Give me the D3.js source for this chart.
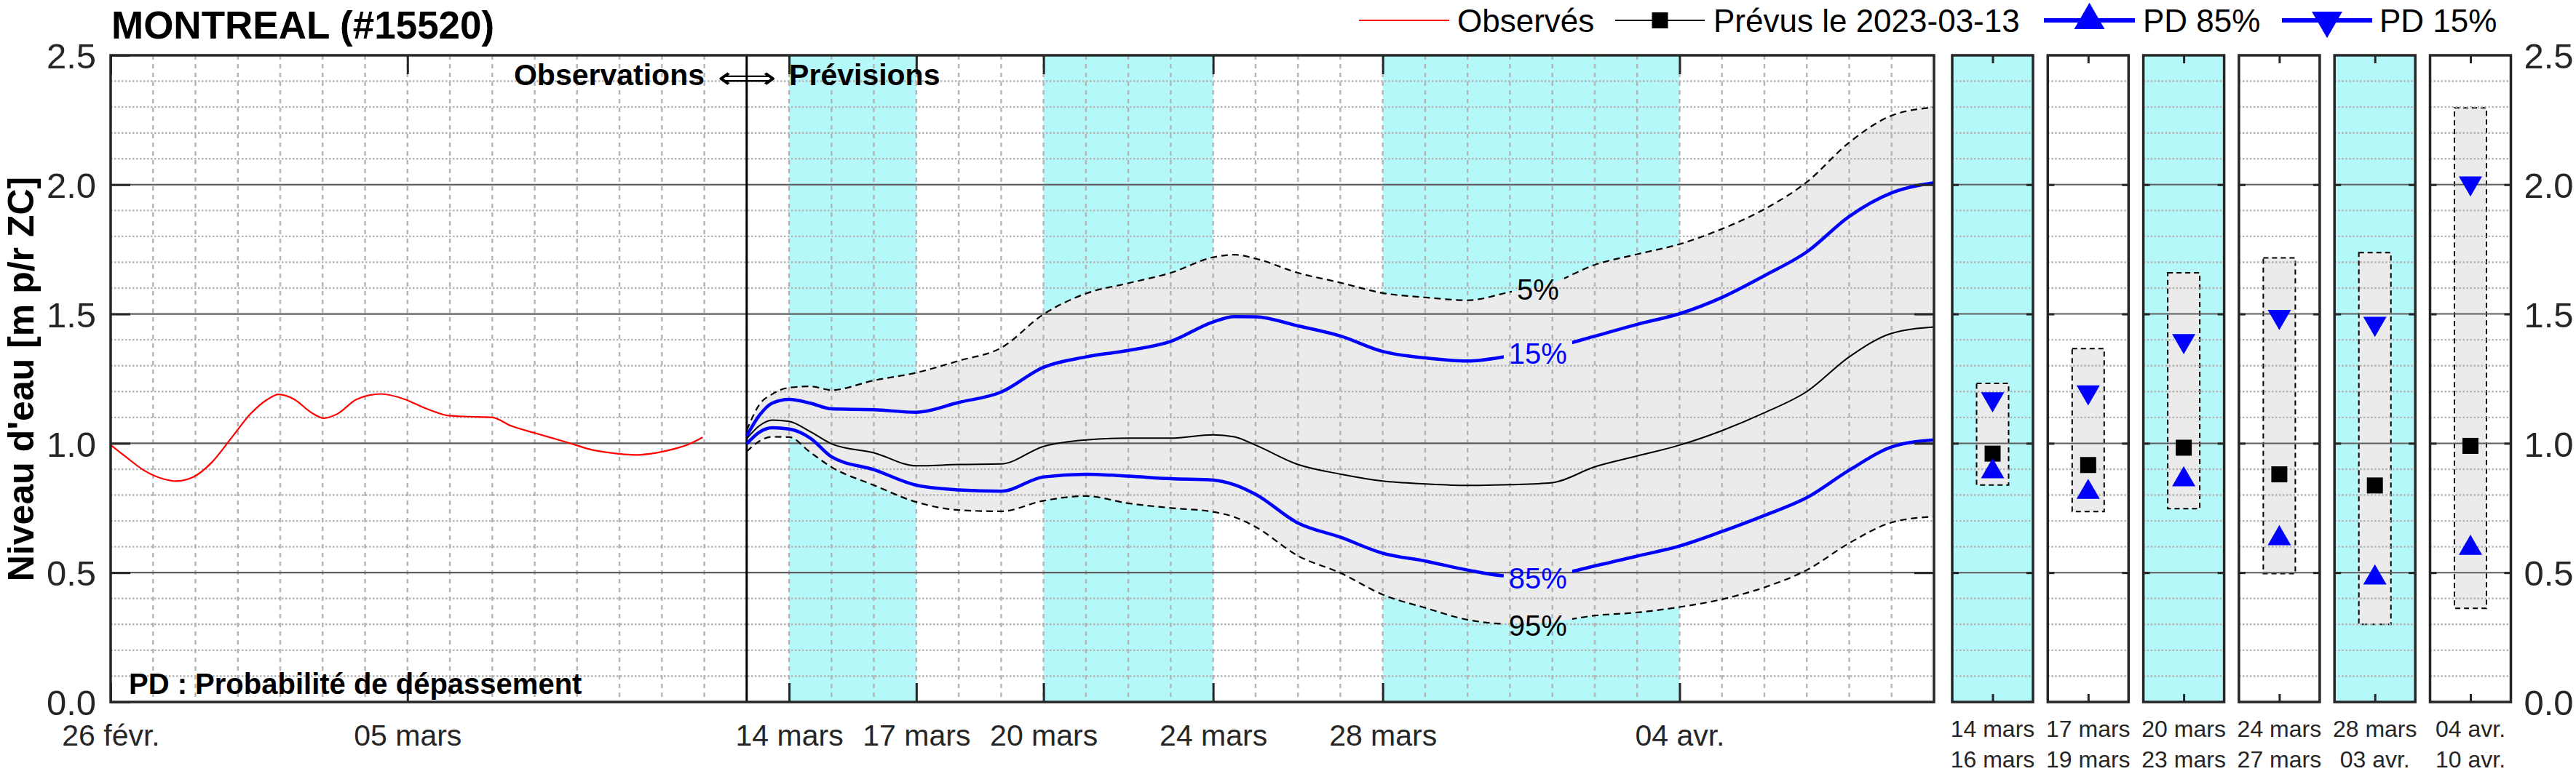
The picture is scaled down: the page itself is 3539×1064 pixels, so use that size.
<!DOCTYPE html>
<html><head><meta charset="utf-8">
<script src="https://cdn.jsdelivr.net/npm/d3@7"></script>
<style>html,body{margin:0;padding:0;background:#fff}svg{display:block}</style>
</head><body>
<script>
// ---------------- DATA ----------------
const titleText = "MONTREAL (#15520)";
const yLabelText = "Niveau d'eau [m p/r ZC]";
const startDate = "2023-02-26";
const endDate = "2023-04-10";
const forecastDate = "2023-03-13";
const xTickDates = ["2023-02-26","2023-03-05","2023-03-14","2023-03-17","2023-03-20","2023-03-24","2023-03-28","2023-04-04"];
const xTickLabels = ["26 févr.","05 mars","14 mars","17 mars","20 mars","24 mars","28 mars","04 avr."];
const yTicks = [0, 0.5, 1, 1.5, 2, 2.5];
const yTickLabels = ["0.0","0.5","1.0","1.5","2.0","2.5"];
const bandStarts = ["2023-03-14","2023-03-20","2023-03-28"];
const bandEnds   = ["2023-03-17","2023-03-24","2023-04-04"];

// observed (days since startDate)
const obsDays = [0,0.34,0.8,1.25,1.54,1.94,2.39,2.85,3.3,3.7,3.96,4.33,4.73,5.03,5.35,5.8,6.37,6.94,7.4,7.97,8.48,9,9.45,10.02,10.8,11.37,11.95,12.35,12.86,13.3,13.64,13.96];
const obsValues = [0.994,0.95,0.894,0.862,0.854,0.869,0.927,1.021,1.114,1.17,1.189,1.17,1.119,1.097,1.114,1.17,1.191,1.17,1.137,1.107,1.103,1.1,1.067,1.039,1.002,0.974,0.96,0.955,0.963,0.979,0.997,1.023];

// forecast (days since startDate)
const fcDays = [15,15.3,15.6,16,16.5,17,18,19,20,21,22,23,24,25,26,26.5,27,28,29,30,31,32,33,34,35,36,37,38,39,40,41,42,43];
const p05 = [1.05,1.15,1.19,1.215,1.22,1.206,1.243,1.273,1.319,1.369,1.499,1.579,1.619,1.659,1.719,1.729,1.714,1.659,1.621,1.581,1.564,1.553,1.585,1.62,1.69,1.731,1.77,1.829,1.905,2.01,2.163,2.267,2.299];
const p15 = [1.028,1.108,1.155,1.17,1.155,1.133,1.13,1.12,1.158,1.198,1.294,1.334,1.359,1.394,1.469,1.49,1.489,1.454,1.415,1.355,1.33,1.318,1.338,1.37,1.414,1.46,1.501,1.564,1.648,1.74,1.877,1.968,2.007];
const p50 = [1.018,1.068,1.09,1.085,1.045,0.998,0.963,0.913,0.918,0.92,0.988,1.013,1.02,1.02,1.033,1.025,0.993,0.918,0.881,0.854,0.843,0.837,0.84,0.848,0.909,0.951,0.993,1.049,1.118,1.2,1.334,1.425,1.45];
const p85 = [0.998,1.043,1.06,1.055,1.02,0.948,0.898,0.838,0.82,0.815,0.87,0.88,0.873,0.863,0.858,0.84,0.803,0.692,0.637,0.575,0.545,0.51,0.487,0.492,0.526,0.564,0.603,0.659,0.721,0.79,0.896,0.986,1.013];
const p95 = [0.968,1.008,1.025,1.024,0.965,0.908,0.838,0.773,0.742,0.737,0.778,0.796,0.768,0.75,0.735,0.715,0.677,0.565,0.499,0.415,0.364,0.318,0.302,0.31,0.334,0.346,0.367,0.397,0.443,0.51,0.614,0.694,0.717];
const curveLabels = ["5%","15%","85%","95%"];
const curveLabelDay = 33.66;

// period panels
const panelStartLabels = ["14 mars","17 mars","20 mars","24 mars","28 mars","04 avr."];
const panelEndLabels   = ["16 mars","19 mars","23 mars","27 mars","03 avr.","10 avr."];
const panelHigh = [1.232,1.366,1.659,1.717,1.737,2.297];
const panelLow  = [0.839,0.736,0.747,0.496,0.300,0.362];
const panelP15  = [1.171,1.198,1.396,1.490,1.463,2.006];
const panelMed  = [0.960,0.916,0.983,0.880,0.837,0.990];
const panelP85  = [0.891,0.811,0.860,0.632,0.480,0.595];
const panelShaded = [true,false,true,false,true,false];

const legendLabels = ["Observés","Prévus le 2023-03-13","PD 85%","PD 15%"];
const annotObs = "Observations";
const annotArrow = "⟺";
const annotFc = "Prévisions";
const noteText = "PD : Probabilité de dépassement";

// ---------------- LAYOUT / STYLE ----------------
const W = 3539, H = 1064;
const FONT = "'Liberation Sans', Arial, Helvetica, sans-serif";
const CYAN = "#b4f8fa", FILL = "#ebebeb", GRID = "#b4b4b4", MAJ = "#5e5e5e", FRAME = "#262626", TXT = "#262626";
const M = {left:152, right:2657, top:76, bottom:965};
const PX0 = 2682, PSTEP = 131.3, PW = 111;

const parse = d3.utcParse("%Y-%m-%d");
const t0 = parse(startDate);
const dayToDate = d => new Date(t0.getTime() + d * 864e5);

const svg = d3.select("body").append("svg").attr("width", W).attr("height", H)
  .style("font-family", FONT);
svg.append("rect").attr("width", W).attr("height", H).attr("fill", "#fff");

const x = d3.scaleUtc().domain([parse(startDate), parse(endDate)]).range([M.left, M.right]);
const y = d3.scaleLinear().domain([0, 2.5]).range([M.bottom, M.top]);

const defs = svg.append("defs");
defs.append("clipPath").attr("id", "clipMain").append("rect")
  .attr("x", M.left).attr("y", M.top).attr("width", M.right - M.left).attr("height", M.bottom - M.top);

const g = svg.append("g").attr("clip-path", "url(#clipMain)");

// cyan bands
g.selectAll("rect.band").data(d3.zip(bandStarts, bandEnds)).join("rect")
  .attr("x", d => x(parse(d[0]))).attr("width", d => x(parse(d[1])) - x(parse(d[0])))
  .attr("y", M.top).attr("height", M.bottom - M.top).attr("fill", CYAN);

const fc = fcDays.map((d, i) => ({t: dayToDate(d), p05: p05[i], p15: p15[i], p50: p50[i], p85: p85[i], p95: p95[i]}));
const obs = obsDays.map((d, i) => ({t: dayToDate(d), v: obsValues[i]}));

// envelope
g.append("path").datum(fc)
  .attr("d", d3.area().x(d => x(d.t)).y0(d => y(d.p95)).y1(d => y(d.p05)).curve(d3.curveMonotoneX))
  .attr("fill", FILL);

// grid
const gridDays = d3.utcDay.range(d3.utcDay.offset(parse(startDate), 1), parse(endDate));
g.selectAll("line.vg").data(gridDays).join("line")
  .attr("x1", d => x(d)).attr("x2", d => x(d)).attr("y1", M.top).attr("y2", M.bottom)
  .attr("stroke", GRID).attr("stroke-width", 2.4).attr("stroke-dasharray", "6,6");
const minorY = d3.range(1, 25).filter(i => i % 5 !== 0).map(i => i / 10);
const majorY = [0.5, 1, 1.5, 2];
g.selectAll("line.hg").data(minorY).join("line")
  .attr("x1", M.left).attr("x2", M.right).attr("y1", d => y(d)).attr("y2", d => y(d))
  .attr("stroke", GRID).attr("stroke-width", 2.4).attr("stroke-dasharray", "2.5,2.5");
g.selectAll("line.hm").data(majorY).join("line")
  .attr("x1", M.left).attr("x2", M.right).attr("y1", d => y(d)).attr("y2", d => y(d))
  .attr("stroke", MAJ).attr("stroke-width", 2.2);

// separator
g.append("line").attr("x1", x(parse(forecastDate))).attr("x2", x(parse(forecastDate)))
  .attr("y1", M.top).attr("y2", M.bottom).attr("stroke", "#000").attr("stroke-width", 3);

// curves
const line = key => d3.line().x(d => x(d.t)).y(d => y(d[key])).curve(d3.curveMonotoneX);
const pathP05 = g.append("path").datum(fc).attr("d", line("p05")).attr("fill", "none")
  .attr("stroke", "#000").attr("stroke-width", 2.2).attr("stroke-dasharray", "9,6");
const pathP95 = g.append("path").datum(fc).attr("d", line("p95")).attr("fill", "none")
  .attr("stroke", "#000").attr("stroke-width", 2.2).attr("stroke-dasharray", "9,6");
g.append("path").datum(fc).attr("d", line("p50")).attr("fill", "none")
  .attr("stroke", "#000").attr("stroke-width", 2);
const pathP15 = g.append("path").datum(fc).attr("d", line("p15")).attr("fill", "none")
  .attr("stroke", "#0000ff").attr("stroke-width", 4.5);
const pathP85 = g.append("path").datum(fc).attr("d", line("p85")).attr("fill", "none")
  .attr("stroke", "#0000ff").attr("stroke-width", 4.5);
g.append("path").datum(obs)
  .attr("d", d3.line().x(d => x(d.t)).y(d => y(d.v)).curve(d3.curveMonotoneX))
  .attr("fill", "none").attr("stroke", "#ff0000").attr("stroke-width", 2.2);

// inline labels on curves
function valAt(arr, d) {
  const i = Math.max(1, Math.min(fcDays.length - 1, d3.bisectRight(fcDays, d)));
  const t = (d - fcDays[i - 1]) / (fcDays[i] - fcDays[i - 1]);
  return arr[i - 1] + (arr[i] - arr[i - 1]) * t;
}
const labelSpecs = [
  {arr: p05, path: pathP05, color: "#000", txt: curveLabels[0], id: "m05"},
  {arr: p15, path: pathP15, color: "#0000ff", txt: curveLabels[1], id: "m15"},
  {arr: p85, path: pathP85, color: "#0000ff", txt: curveLabels[2], id: "m85"},
  {arr: p95, path: pathP95, color: "#000", txt: curveLabels[3], id: "m95"}
];
const lblG = svg.append("g");
labelSpecs.forEach(s => {
  const cx = x(dayToDate(curveLabelDay));
  const cy = y(valAt(s.arr, curveLabelDay)) + 4;
  const t = lblG.append("text").attr("x", cx).attr("y", cy).attr("dy", "0.36em")
    .attr("text-anchor", "middle").attr("font-size", 40).attr("fill", s.color).text(s.txt);
  const b = t.node().getBBox();
  const m = defs.append("mask").attr("id", s.id).attr("maskUnits", "userSpaceOnUse")
    .attr("x", 0).attr("y", 0).attr("width", W).attr("height", H);
  m.append("rect").attr("x", 0).attr("y", 0).attr("width", W).attr("height", H).attr("fill", "#fff");
  m.append("rect").attr("x", b.x - 7).attr("y", b.y - 4).attr("width", b.width + 14).attr("height", b.height + 8).attr("fill", "#000");
  s.path.attr("mask", `url(#${s.id})`);
});

// frame and axes
svg.append("rect").attr("x", M.left).attr("y", M.top).attr("width", M.right - M.left).attr("height", M.bottom - M.top)
  .attr("fill", "none").attr("stroke", FRAME).attr("stroke-width", 3.5);

const tickDates = xTickDates.map(parse);
const axB = svg.append("g").attr("transform", `translate(0,${M.bottom})`)
  .call(d3.axisBottom(x).tickValues(tickDates).tickFormat((d, i) => xTickLabels[i]).tickSizeInner(-26).tickSizeOuter(0).tickPadding(31));
const axT = svg.append("g").attr("transform", `translate(0,${M.top})`)
  .call(d3.axisTop(x).tickValues(tickDates).tickFormat("").tickSizeInner(-26).tickSizeOuter(0));
const axL = svg.append("g").attr("transform", `translate(${M.left},0)`)
  .call(d3.axisLeft(y).tickValues(yTicks).tickFormat((d, i) => yTickLabels[i]).tickSizeInner(-27).tickSizeOuter(0).tickPadding(20));
const axR = svg.append("g").attr("transform", `translate(${M.right},0)`)
  .call(d3.axisRight(y).tickValues(majorY).tickFormat("").tickSizeInner(-27).tickSizeOuter(0));
[axB, axT, axL, axR].forEach(a => {
  a.select(".domain").remove();
  a.selectAll(".tick line").attr("stroke", FRAME).attr("stroke-width", 3);
  a.attr("font-family", FONT);
});
axB.selectAll(".tick text").attr("font-size", 41).attr("fill", TXT);
axL.selectAll(".tick text").attr("font-size", 49).attr("fill", TXT).attr("dy", "0.36em");

// ---------------- PANELS ----------------
const panels = svg.append("g");
const triSize = w => Math.pow(w / (2 * Math.sqrt(3)), 2) * Math.sqrt(3) * 3;
panelStartLabels.forEach((lab, i) => {
  const px = d3.scaleLinear().domain([0, 1]).range([PX0 + i * PSTEP, PX0 + i * PSTEP + PW]);
  const pg = panels.append("g");
  pg.append("rect").attr("x", px(0)).attr("y", M.top).attr("width", PW).attr("height", M.bottom - M.top)
    .attr("fill", panelShaded[i] ? CYAN : "#fff");
  // envelope box
  pg.append("rect").attr("x", px(0.5) - 22).attr("width", 44)
    .attr("y", y(panelHigh[i])).attr("height", y(panelLow[i]) - y(panelHigh[i]))
    .attr("fill", FILL).attr("stroke", "#000").attr("stroke-width", 2).attr("stroke-dasharray", "7,5");
  pg.selectAll("line.hg").data(minorY).join("line")
    .attr("x1", px(0)).attr("x2", px(1)).attr("y1", d => y(d)).attr("y2", d => y(d))
    .attr("stroke", GRID).attr("stroke-width", 2.4).attr("stroke-dasharray", "2.5,2.5");
  pg.selectAll("line.hm").data(majorY).join("line")
    .attr("x1", px(0)).attr("x2", px(1)).attr("y1", d => y(d)).attr("y2", d => y(d))
    .attr("stroke", MAJ).attr("stroke-width", 2);
  // markers
  pg.append("path").attr("d", d3.symbol(d3.symbolSquare, 22 * 22)())
    .attr("transform", `translate(${px(0.5)},${y(panelMed[i])})`).attr("fill", "#000");
  pg.append("path").attr("d", d3.symbol(d3.symbolTriangle, triSize(32))())
    .attr("transform", `translate(${px(0.5)},${y(panelP85[i])})`).attr("fill", "#0000ff");
  pg.append("path").attr("d", d3.symbol(d3.symbolTriangle, triSize(32))())
    .attr("transform", `translate(${px(0.5)},${y(panelP15[i])}) rotate(180)`).attr("fill", "#0000ff");
  // frame + ticks
  pg.append("rect").attr("x", px(0)).attr("y", M.top).attr("width", PW).attr("height", M.bottom - M.top)
    .attr("fill", "none").attr("stroke", FRAME).attr("stroke-width", 3.5);
  const a1 = pg.append("g").attr("transform", `translate(0,${M.bottom})`)
    .call(d3.axisBottom(px).tickValues([0.5]).tickFormat("").tickSizeInner(-11).tickSizeOuter(0));
  const a2 = pg.append("g").attr("transform", `translate(0,${M.top})`)
    .call(d3.axisTop(px).tickValues([0.5]).tickFormat("").tickSizeInner(-11).tickSizeOuter(0));
  const a3 = pg.append("g").attr("transform", `translate(${px(0)},0)`)
    .call(d3.axisLeft(y).tickValues(majorY).tickFormat("").tickSizeInner(-9).tickSizeOuter(0));
  const a4 = pg.append("g").attr("transform", `translate(${px(1)},0)`)
    .call(d3.axisRight(y).tickValues(majorY).tickFormat("").tickSizeInner(-9).tickSizeOuter(0));
  [a1, a2, a3, a4].forEach(a => {
    a.select(".domain").remove();
    a.selectAll(".tick line").attr("stroke", FRAME).attr("stroke-width", 3);
  });
  pg.append("text").attr("x", px(0.5)).attr("y", 1013).attr("text-anchor", "middle")
    .attr("font-size", 32).attr("fill", TXT).text(lab);
  pg.append("text").attr("x", px(0.5)).attr("y", 1055).attr("text-anchor", "middle")
    .attr("font-size", 32).attr("fill", TXT).text(panelEndLabels[i]);
});
// right axis labels
const lastRight = PX0 + 5 * PSTEP + PW;
const axPR = svg.append("g").attr("transform", `translate(${lastRight},0)`)
  .call(d3.axisRight(y).tickValues(yTicks).tickFormat((d, i) => yTickLabels[i]).tickSize(0).tickPadding(18));
axPR.select(".domain").remove();
axPR.attr("font-family", FONT);
axPR.selectAll(".tick text").attr("font-size", 49).attr("fill", TXT).attr("dy", "0.36em");

// ---------------- TEXTS ----------------
svg.append("text").attr("x", 153).attr("y", 53).attr("font-size", 53).attr("font-weight", "bold")
  .attr("fill", "#000").text(titleText);
svg.append("text").attr("transform", `translate(46,521) rotate(-90)`).attr("text-anchor", "middle")
  .attr("font-size", 50).attr("font-weight", "bold").attr("fill", "#000").text(yLabelText);

const sepX = x(parse(forecastDate));
svg.append("text").attr("x", 968).attr("y", 117).attr("text-anchor", "end")
  .attr("font-size", 41).attr("font-weight", "bold").attr("fill", "#000").text(annotObs);
svg.append("text").attr("x", sepX - 40).attr("y", 121)
  .attr("font-size", 41).attr("textLength", 81).attr("lengthAdjust", "spacingAndGlyphs")
  .attr("fill", "#000").style("font-family", "'DejaVu Sans', sans-serif").text(annotArrow);
svg.append("text").attr("x", x(parse("2023-03-14"))).attr("y", 117)
  .attr("font-size", 41).attr("font-weight", "bold").attr("fill", "#000").text(annotFc);
svg.append("text").attr("x", 177).attr("y", 954)
  .attr("font-size", 40).attr("font-weight", "bold").attr("fill", "#000").text(noteText);

// legend
const LY = 28;
const leg = svg.append("g");
const legItems = [
  {x1: 1867, x2: 1991, tx: 2002, color: "#ff0000", w: 2.2, marker: null},
  {x1: 2219, x2: 2342, tx: 2354, color: "#000", w: 2, marker: "square"},
  {x1: 2808, x2: 2933, tx: 2944, color: "#0000ff", w: 6, marker: "up"},
  {x1: 3135, x2: 3259, tx: 3269, color: "#0000ff", w: 6, marker: "down"}
];
legItems.forEach((it, i) => {
  leg.append("line").attr("x1", it.x1).attr("x2", it.x2).attr("y1", LY).attr("y2", LY)
    .attr("stroke", it.color).attr("stroke-width", it.w);
  const cx = (it.x1 + it.x2) / 2;
  if (it.marker === "square") {
    leg.append("path").attr("d", d3.symbol(d3.symbolSquare, 22 * 22)()).attr("transform", `translate(${cx},${LY})`).attr("fill", "#000");
  } else if (it.marker === "up") {
    leg.append("path").attr("d", d3.symbol(d3.symbolTriangle, triSize(42))()).attr("transform", `translate(${cx},${LY})`).attr("fill", "#0000ff");
  } else if (it.marker === "down") {
    leg.append("path").attr("d", d3.symbol(d3.symbolTriangle, triSize(42))()).attr("transform", `translate(${cx},${LY}) rotate(180)`).attr("fill", "#0000ff");
  }
  leg.append("text").attr("x", it.tx).attr("y", 44).attr("font-size", 44).attr("fill", "#000").text(legendLabels[i]);
});
</script>
</body></html>
